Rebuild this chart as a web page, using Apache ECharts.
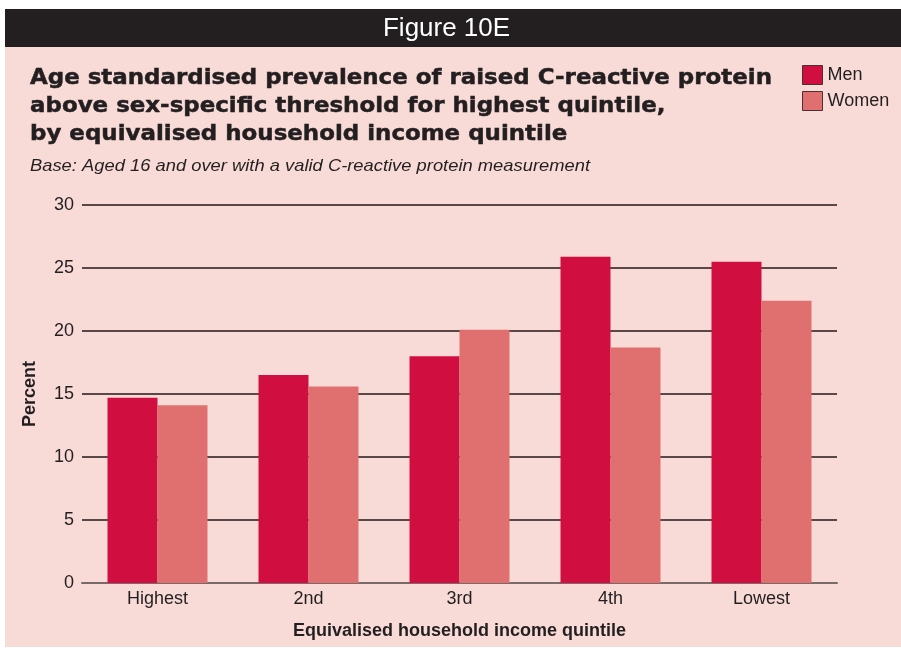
<!DOCTYPE html>
<html>
<head>
<meta charset="utf-8">
<script src="https://cdn.jsdelivr.net/npm/echarts@6/dist/echarts.min.js"></script>
<style>
  html, body { margin: 0; padding: 0; background: #ffffff; }
  #chart { width: 901px; height: 650px; }
</style>
</head>
<body>
<div id="chart"></div>
<script>
// Equivalised household income quintiles
var categories = ['Highest', '2nd', '3rd', '4th', 'Lowest'];
// Age standardised prevalence (%) of raised C-reactive protein
var menValues = [14.7, 16.5, 18.0, 25.9, 25.5];
var womenValues = [14.1, 15.6, 20.1, 18.7, 22.4];
var yTicks = [0, 5, 10, 15, 20, 25, 30];

var MEN_COLOR = '#d00f40';
var WOMEN_COLOR = '#e07070';
var PANEL = '#f8dad6';
var INK = '#231f20';
var FONT = '"Liberation Sans", Arial, Helvetica, sans-serif';

var TITLE_TEXT = 'Age standardised prevalence of raised C-reactive protein\nabove sex-specific threshold for highest quintile,\nby equivalised household income quintile';
var SUBTITLE_TEXT = 'Base: Aged 16 and over with a valid C-reactive protein measurement';
var TITLE_FONT = 'bold 22px "DejaVu Sans", "Liberation Sans", sans-serif';
var SUB_FONT = 'italic 17px ' + FONT;
var FIG_FONT = '25px ' + FONT;

// Horizontal stretch so each heading spans its intended line length
var ctx = document.createElement('canvas').getContext('2d');
function stretchTo(font, text, width) {
  ctx.font = font;
  return width / ctx.measureText(text).width;
}
var titleScale = stretchTo(TITLE_FONT, TITLE_TEXT.split('\n')[0], 742);
var subScale = stretchTo(SUB_FONT, SUBTITLE_TEXT, 560);
var figScale = stretchTo(FIG_FONT, 'Figure 10E', 127);

var chart = echarts.init(document.getElementById('chart'), null, { renderer: 'canvas' });

chart.setOption({
  backgroundColor: '#ffffff',
  animation: false,
  graphic: [
    { type: 'rect', z: -10, shape: { x: 5, y: 9, width: 896, height: 638 }, style: { fill: PANEL } },
    { type: 'rect', z: -9, shape: { x: 5, y: 9, width: 896, height: 38 }, style: { fill: INK } },
    { type: 'text', z: 5, x: 446.5, y: 29.5, scaleX: figScale,
      style: { text: 'Figure 10E', fill: '#ffffff', font: FIG_FONT, align: 'center', verticalAlign: 'middle' } },
    { type: 'text', z: 5, x: 30, y: 64, scaleX: titleScale,
      style: {
        text: TITLE_TEXT, fill: INK, font: TITLE_FONT, lineHeight: 28,
        align: 'left', verticalAlign: 'top',
        stroke: INK, lineWidth: 0.5
      } },
    { type: 'text', z: 5, x: 30, y: 158, scaleX: subScale,
      style: { text: SUBTITLE_TEXT, fill: INK, font: SUB_FONT, align: 'left', verticalAlign: 'top' } }
  ],
  legend: {
    orient: 'vertical',
    left: 802,
    top: 65,
    padding: 0,
    itemWidth: 20,
    itemHeight: 19,
    itemGap: 6,
    icon: 'rect',
    textStyle: { color: INK, fontSize: 18, fontFamily: FONT },
    itemStyle: { borderColor: '#4a3030', borderWidth: 1 },
    data: ['Men', 'Women']
  },
  grid: { left: 82, right: 64, top: 205, bottom: 67, containLabel: false },
  xAxis: {
    type: 'category',
    data: categories,
    name: 'Equivalised household income quintile',
    nameLocation: 'middle',
    nameGap: 39,
    nameTextStyle: { color: INK, fontSize: 18, fontWeight: 'bold', fontFamily: FONT },
    axisLine: { show: true, lineStyle: { color: '#7a6a6a', width: 2 } },
    axisTick: { show: false },
    axisLabel: { color: INK, fontSize: 18, fontFamily: FONT, margin: 7 }
  },
  yAxis: {
    type: 'value',
    min: yTicks[0],
    max: yTicks[yTicks.length - 1],
    interval: 5,
    name: 'Percent',
    nameLocation: 'middle',
    nameGap: 43,
    nameRotate: 90,
    nameTextStyle: { color: INK, fontSize: 18, fontWeight: 'bold', fontFamily: FONT },
    axisLine: { show: false },
    axisTick: { show: false },
    axisLabel: { color: INK, fontSize: 18, fontFamily: FONT, margin: 8, padding: [5, 0, 0, 0] },
    splitLine: { show: true, lineStyle: { color: '#5a4848', width: 2 } }
  },
  series: [
    {
      name: 'Men', type: 'bar', data: menValues,
      barGap: '0%', barCategoryGap: '33.8%',
      itemStyle: { color: MEN_COLOR }
    },
    {
      name: 'Women', type: 'bar', data: womenValues,
      barGap: '0%', barCategoryGap: '33.8%',
      itemStyle: { color: WOMEN_COLOR }
    }
  ]
});
</script>
</body>
</html>
